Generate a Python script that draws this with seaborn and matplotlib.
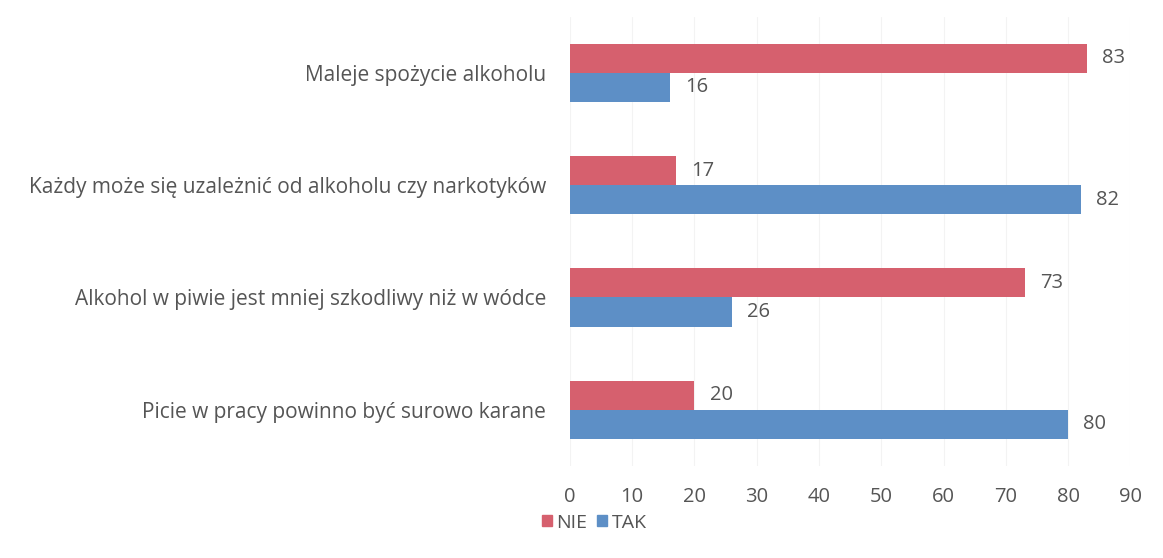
"""
Horizontal grouped bar chart: NIE / TAK answers for four statements.
"""

import matplotlib
matplotlib.use('Agg')
import matplotlib.pyplot as plt
import seaborn as sns
import pandas as pd

statements = [
    'Maleje spożycie alkoholu',
    'Każdy może się uzależnić od alkoholu czy narkotyków',
    'Alkohol w piwie jest mniej szkodliwy niż w wódce',
    'Picie w pracy powinno być surowo karane',
]
nie_values = [83, 17, 73, 20]
tak_values = [16, 82, 26, 80]
series_names = ['NIE', 'TAK']
x_ticks = [0, 10, 20, 30, 40, 50, 60, 70, 80, 90]

df = pd.DataFrame({
    'statement': statements * 2,
    'answer': [series_names[0]] * len(statements) + [series_names[1]] * len(statements),
    'value': nie_values + tak_values,
})

sns.set_theme(style='white')
plt.rcParams['font.family'] = ['Open Sans', 'DejaVu Sans']
text_color = '#555555'

fig = plt.figure(figsize=(11.63, 5.58), dpi=100)
ax = fig.add_axes([0.49, 0.165, 0.482, 0.805])

palette = {'NIE': '#d6606e', 'TAK': '#5d8fc6'}
sns.barplot(data=df, y='statement', x='value', hue='answer', orient='h',
            palette=palette, width=0.52, ax=ax, legend=False, saturation=1,
            linewidth=0)

for container in ax.containers:
    ax.bar_label(container, padding=11, fontsize=14.5, color=text_color)

ax.set_xlim(0, 90)
ax.set_ylim(3.5, -0.5)
ax.set_xticks(x_ticks)
ax.set_xlabel('')
ax.set_ylabel('')
ax.tick_params(axis='x', labelsize=14.5, labelcolor=text_color, pad=15, length=0)
ax.tick_params(axis='y', labelsize=15, labelcolor=text_color, pad=17, length=0)
ax.xaxis.grid(True, color='#f3f3f3', linewidth=0.8)
ax.set_axisbelow(True)
sns.despine(ax=ax, left=True, bottom=True)

# legend below the axis
handles = [plt.Rectangle((0, 0), 1, 1, color=palette[n]) for n in series_names]
fig.legend(handles, series_names, loc='center', bbox_to_anchor=(0.511, 0.063),
           ncol=2, frameon=False, fontsize=14, handlelength=0.5, handleheight=0.5,
           handletextpad=0.25, columnspacing=0.5, labelcolor=text_color)

fig.savefig('out.png', dpi=100)
